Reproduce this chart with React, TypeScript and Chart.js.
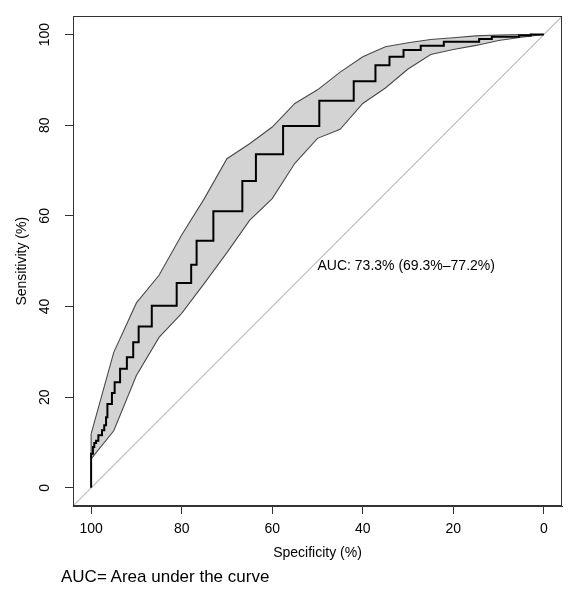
import React, { useEffect, useRef } from "react";
import { Chart, registerables } from "chart.js";

Chart.register(...registerables);

// ---- Data ----
const tickValues = [0, 20, 40, 60, 80, 100];

// ROC curve vertices (specificity %, sensitivity %)
const rocSpecificity = [100, 100, 99.6, 99.3, 98.9, 98.4, 97.6, 97.1, 96.7, 96.4, 95.4, 94.8, 93.6, 92.1, 90.7, 89.5, 86.6, 81.1, 77.9, 76.7, 73.0, 66.6, 63.6, 57.6, 49.6, 42.0, 37.2, 34.1, 31.0, 27.2, 22.1, 14.3, 11.5, 5.5, 2.9, 0];
const rocSensitivity = [0, 7.5, 9.0, 9.9, 10.4, 11.6, 12.7, 13.8, 15.6, 18.5, 20.9, 23.3, 26.3, 28.8, 32.1, 35.6, 40.2, 45.2, 49.2, 54.5, 61.0, 67.7, 73.6, 79.8, 85.4, 89.7, 93.2, 95.1, 96.6, 97.5, 98.4, 99.0, 99.5, 99.8, 100, 100];

// Confidence band of sensitivity at fixed specificities
const ciSpecificity = [100, 95, 90, 85, 80, 75, 70, 65, 60, 55, 50, 45, 40, 35, 30, 25, 20, 15, 10, 5, 0];
const ciUpper = [11.9, 29.9, 40.8, 46.9, 55.8, 63.8, 72.6, 75.9, 79.6, 84.8, 87.8, 91.7, 95.1, 97.3, 98.2, 98.9, 99.3, 99.7, 99.9, 100, 100];
const ciLower = [6.4, 12.6, 24.8, 33.2, 38.5, 45.1, 51.9, 59.0, 63.8, 71.6, 77.1, 79.1, 84.8, 88.2, 92.4, 95.6, 96.7, 97.6, 98.7, 99.4, 100];

// Chance diagonal (spans the whole plotting region)
const diagSpecificity = [104, -4];
const diagSensitivity = [-4, 104];

const aucText = "AUC: 73.3% (69.3%\u201377.2%)";
const aucPosition = [50, 50];
const xTitle = "Specificity (%)";
const yTitle = "Sensitivity (%)";
const caption = "AUC= Area under the curve";

const FONT = '"Liberation Sans", Arial, Helvetica, sans-serif';

export default function App() {
  const ref = useRef<HTMLCanvasElement>(null);

  useEffect(() => {
    const canvas = ref.current;
    if (!canvas) return;

    const rocPoints = rocSpecificity.map((s, i) => ({ x: s, y: rocSensitivity[i] }));
    const upper = ciSpecificity.map((s, i) => ({ x: s, y: ciUpper[i] }));
    const lower = ciSpecificity.map((s, i) => ({ x: s, y: ciLower[i] })).reverse();
    const bandPoints = [...upper, ...lower, upper[0]];
    const diagPoints = diagSpecificity.map((s, i) => ({ x: s, y: diagSensitivity[i] }));

    const extras = {
      id: "extras",
      afterDatasetsDraw(chart: any) {
        const { ctx, chartArea, scales } = chart;
        ctx.save();
        ctx.strokeStyle = "#333";
        ctx.lineWidth = 1;
        ctx.strokeRect(
          Math.round(chartArea.left) + 0.5,
          Math.round(chartArea.top) + 0.5,
          Math.round(chartArea.right - chartArea.left) - 1,
          Math.round(chartArea.bottom - chartArea.top) - 1
        );
        ctx.fillStyle = "#000";
        ctx.font = "14px " + FONT;
        ctx.textAlign = "left";
        ctx.textBaseline = "top";
        ctx.fillText(
          aucText,
          scales.x.getPixelForValue(aucPosition[0]),
          scales.y.getPixelForValue(aucPosition[1]) - 2
        );
        ctx.restore();
      },
    };

    const axisCommon = {
      type: "linear" as const,
      min: -4,
      max: 104,
      afterBuildTicks: (s: any) => {
        s.ticks = tickValues.map((v) => ({ value: v }));
      },
      grid: {
        drawOnChartArea: false,
        drawTicks: true,
        tickLength: 8,
        tickColor: "#333",
        color: "#333",
        lineWidth: 1,
      },
      border: { display: true, color: "#333", width: 1 },
    };

    const chart = new Chart(canvas, {
      type: "scatter",
      data: {
        datasets: [
          {
            label: "ROC",
            data: rocPoints,
            showLine: true,
            stepped: "before",
            borderColor: "#000",
            borderWidth: 2,
            pointRadius: 0,
            fill: false,
            order: 0,
          },
          {
            label: "CI",
            data: bandPoints,
            showLine: true,
            fill: "shape",
            backgroundColor: "#d3d3d3",
            borderColor: "#4a4a4a",
            borderWidth: 1.1,
            pointRadius: 0,
            order: 1,
          },
          {
            label: "Chance",
            data: diagPoints,
            showLine: true,
            borderColor: "#bdbdbd",
            borderWidth: 1.2,
            pointRadius: 0,
            fill: false,
            order: 2,
          },
        ],
      } as any,
      options: {
        responsive: false,
        animation: false,
        layout: { padding: { left: 0, right: 16, top: 16, bottom: 0 } },
        plugins: {
          legend: { display: false },
          tooltip: { enabled: false },
        },
        scales: {
          x: {
            ...axisCommon,
            reverse: true,
            afterFit: (s: any) => {
              s.height = 94;
            },
            ticks: {
              padding: 7,
              color: "#000",
              font: { family: FONT, size: 14 },
              maxRotation: 0,
              minRotation: 0,
              autoSkip: false,
            },
            title: {
              display: true,
              text: xTitle,
              color: "#000",
              font: { family: FONT, size: 14 },
              padding: { top: 0, bottom: 38 },
            },
          },
          y: {
            ...axisCommon,
            afterFit: (s: any) => {
              s.width = 73;
            },
            ticks: {
              padding: 8,
              color: "#000",
              font: { family: FONT, size: 14 },
              minRotation: 90,
              maxRotation: 90,
              crossAlign: "center",
              autoSkip: false,
            },
            title: {
              display: true,
              text: yTitle,
              color: "#000",
              font: { family: FONT, size: 14 },
              padding: { top: 14, bottom: 0 },
            },
          },
        },
      } as any,
      plugins: [extras],
    });

    return () => chart.destroy();
  }, []);

  return (
    <div style={{ position: "absolute", left: 0, top: 0, width: 578, height: 600, background: "#fff" }}>
      <canvas ref={ref} width={578} height={600} style={{ display: "block" }} />
      <div
        style={{
          position: "absolute",
          left: 61,
          top: 567,
          fontFamily: FONT,
          fontSize: 17,
          lineHeight: "20px",
          color: "#000",
          whiteSpace: "nowrap",
        }}
      >
        {caption}
      </div>
    </div>
  );
}
